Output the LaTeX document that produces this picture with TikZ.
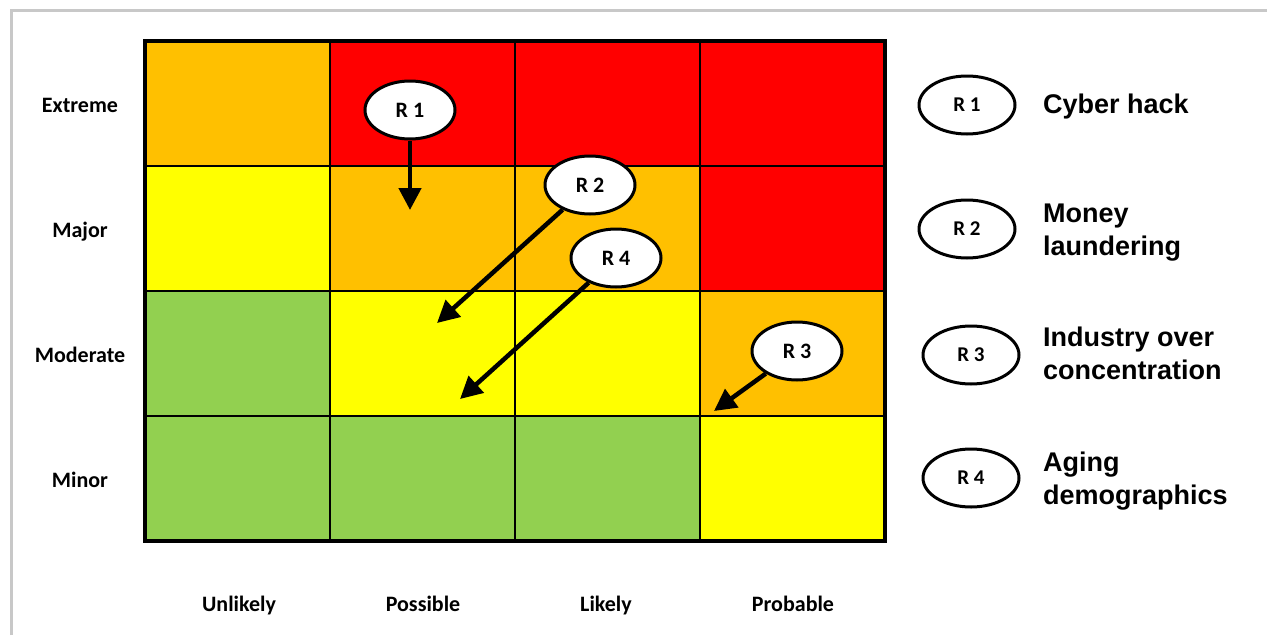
\documentclass[tikz,border=0pt]{standalone}
\usepackage{fontspec}
\usepackage{tikz}
\usetikzlibrary{shapes.geometric,arrows.meta}
\newfontfamily\calibrifont{Carlito}
\newfontfamily\arialfont{Liberation Sans}
\definecolor{riskred}{HTML}{FF0000}
\definecolor{riskorange}{HTML}{FFC000}
\definecolor{riskyellow}{HTML}{FFFF00}
\definecolor{riskgreen}{HTML}{92D050}
\definecolor{framegray}{HTML}{C8C8C8}

\begin{document}
\begin{tikzpicture}[x=1pt,y=-1pt]
  \tikzset{cell/.style={draw, line width=2pt, outer sep=0pt, inner sep=0pt, minimum width=185pt, minimum height=125pt}}
  \tikzset{axislabel/.style={anchor=base, inner sep=0pt, font=\calibrifont\bfseries\fontsize{22}{26}\selectfont}}
  \tikzset{riskmark/.style={draw, ellipse, fill=white, line width=3pt, inner sep=0pt, minimum width=90pt, minimum height=58pt, font=\calibrifont\bfseries\fontsize{22}{26}\selectfont}}
  \tikzset{keymark/.style={riskmark, minimum width=96pt, font=\calibrifont\bfseries\fontsize{21}{25}\selectfont}}
  \tikzset{keytext/.style={anchor=west, align=left, inner sep=0pt, font=\arialfont\bfseries\fontsize{27}{33}\selectfont}}
  \tikzset{riskarrow/.style={line width=4.5pt, -{Triangle[length=22pt,width=22pt]}}}
  \useasboundingbox (0,0) rectangle (1267,635);
  \draw[framegray, line width=3pt] (11,635) -- (11,10.5) -- (1267,10.5);
  % impact: extreme
  \node[cell, fill=riskorange] (c11) at (237.5,103.5) {};
  \node[cell, fill=riskred]    (c12) at (422.5,103.5) {};
  \node[cell, fill=riskred]    (c13) at (607.5,103.5) {};
  \node[cell, fill=riskred]    (c14) at (792.5,103.5) {};
  % impact: major
  \node[cell, fill=riskyellow] (c21) at (237.5,228.5) {};
  \node[cell, fill=riskorange] (c22) at (422.5,228.5) {};
  \node[cell, fill=riskorange] (c23) at (607.5,228.5) {};
  \node[cell, fill=riskred]    (c24) at (792.5,228.5) {};
  % impact: moderate
  \node[cell, fill=riskgreen]  (c31) at (237.5,353.5) {};
  \node[cell, fill=riskyellow] (c32) at (422.5,353.5) {};
  \node[cell, fill=riskyellow] (c33) at (607.5,353.5) {};
  \node[cell, fill=riskorange] (c34) at (792.5,353.5) {};
  % impact: minor
  \node[cell, fill=riskgreen]  (c41) at (237.5,478.5) {};
  \node[cell, fill=riskgreen]  (c42) at (422.5,478.5) {};
  \node[cell, fill=riskgreen]  (c43) at (607.5,478.5) {};
  \node[cell, fill=riskyellow] (c44) at (792.5,478.5) {};
  \draw[line width=4pt] (c11.north west) rectangle (c44.south east);
  % axis labels (placed on their baselines)
  \node[axislabel] (extreme)  at (80,112) {Extreme};
  \node[axislabel] (major)    at (80,237) {Major};
  \node[axislabel] (moderate) at (80,362) {Moderate};
  \node[axislabel] (minor)    at (80,487) {Minor};
  \node[axislabel] (unlikely) at (239,611) {Unlikely};
  \node[axislabel] (possible) at (423,611) {Possible};
  \node[axislabel] (likely)   at (606,611) {Likely};
  \node[axislabel] (probable) at (793,611) {Probable};
  % risks and their moves
  \coordinate (t1) at (410,210);
  \coordinate (t2) at (437,323);
  \coordinate (t3) at (714,411);
  \coordinate (t4) at (460,399);
  \node[riskmark] (r1) at (410,110) {R 1};
  \node[riskmark] (r2) at (590,185) {R 2};
  \node[riskmark] (r4) at (616,258) {R 4};
  \node[riskmark] (r3) at (797,351) {R 3};
  \draw[riskarrow] (r1) -- (t1);
  \draw[riskarrow] (r2) -- (t2);
  \draw[riskarrow] (r4) -- (t4);
  \draw[riskarrow] (r3) -- (t3);
  % key
  \node[keymark] (k1) at (967,105) {R 1};
  \node[keymark] (k2) at (967,229) {R 2};
  \node[keymark] (k3) at (971,355) {R 3};
  \node[keymark] (k4) at (971,478) {R 4};
  \node[keytext] (k1text) at (1043,107) {Cyber hack};
  \node[keytext] (k2text) at (1043,233) {Money\\laundering};
  \node[keytext] (k3text) at (1043,353) {Industry over\\concentration};
  \node[keytext] (k4text) at (1043,481) {Aging\\demographics};
\end{tikzpicture}
\end{document}
